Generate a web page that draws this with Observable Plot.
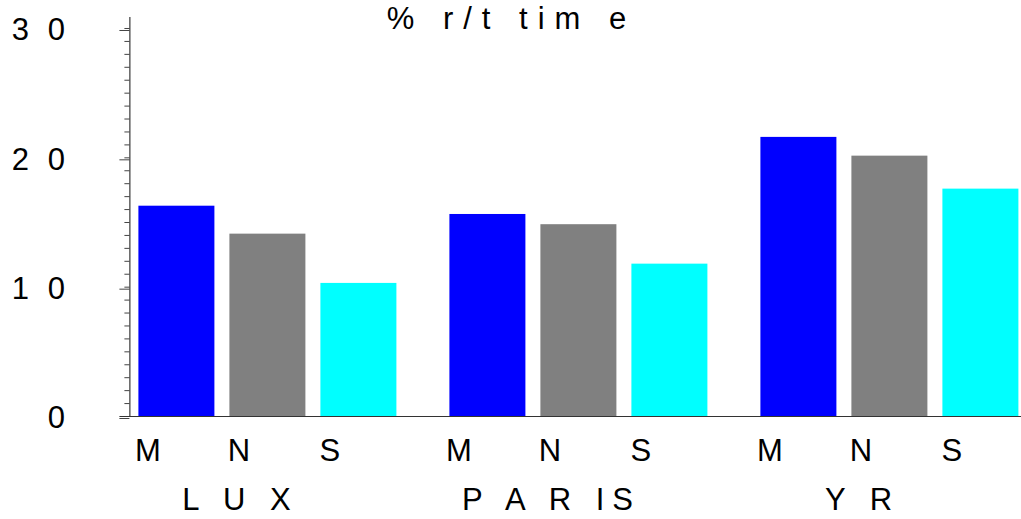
<!DOCTYPE html>
<html>
<head>
<meta charset="utf-8">
<script src="https://cdn.jsdelivr.net/npm/d3@7"></script>
<script src="https://cdn.jsdelivr.net/npm/@observablehq/plot@0.6"></script>
<style>
  html, body { margin: 0; padding: 0; background: #fff; }
  #chart svg { display: block; }
</style>
</head>
<body>
<div id="chart"></div>
<script>
// ---- data ----
const groups = ["LUX", "PARIS", "YR"];
const groupLabels = ["L U X", "P A R IS", "Y R"];
const categories = ["M", "N", "S"];
const luxValues = [16.26, 14.1, 10.29];
const parisValues = [15.62, 14.83, 11.78];
const yrValues = [21.58, 20.13, 17.58];
const categoryColors = ["#0000ff", "#808080", "#00ffff"];
const yTicks = [0, 10, 20, 30];
const yTickLabels = ["0", "1 0", "2 0", "3 0"];
const minorTicks = d3.range(0, 31);
const titleText = "% r/t tim e";

const seriesByGroup = [luxValues, parisValues, yrValues];
const data = groups.flatMap((g, i) =>
  categories.map((c, j) => ({ group: g, cat: c, value: seriesByGroup[i][j] }))
);
const groupRows = groups.map((g, i) => ({ group: g, label: groupLabels[i] }));

const FONT = "'Liberation Sans', Arial, Helvetica, sans-serif";
const AXIS_SHIFT = -5.6;

const chart = Plot.plot({
  width: 1021,
  height: 519,
  marginTop: 17,
  marginBottom: 103,
  marginLeft: 134.6,
  marginRight: 0,
  style: { fontFamily: FONT, fontSize: "31px", color: "#000", background: "#fff" },
  y: { domain: [0, 30.85], axis: null, label: null },
  x: { domain: categories, paddingInner: 0.17, paddingOuter: 0.03, axis: null },
  fx: { domain: groups, paddingInner: 0.1524, paddingOuter: 0, axis: null },
  color: { domain: categories, range: categoryColors },
  marks: [
    Plot.barY(data, { fx: "group", x: "cat", y: "value", fill: "cat" }),
    // minor ticks
    Plot.axisY(minorTicks, { label: null, tickSize: 5, text: null, stroke: "#444", dx: AXIS_SHIFT }),
    // major ticks + labels
    Plot.axisY(yTicks, {
      label: null,
      tickSize: 10,
      tickPadding: 50,
      stroke: "#444",
      dx: AXIS_SHIFT,
      dy: 2,
      fontSize: 31,
      tickFormat: d => yTickLabels[yTicks.indexOf(d)]
    }),
    // y axis line
    Plot.frame({ facet: "super", anchor: "left", insetLeft: AXIS_SHIFT, stroke: "#111" }),
    // baseline
    Plot.frame({ facet: "super", anchor: "bottom", insetLeft: AXIS_SHIFT - 10, stroke: "#333" }),
    // category labels
    Plot.text(data, {
      fx: "group", x: "cat", text: "cat",
      frameAnchor: "bottom", lineAnchor: "middle", dy: 35, dx: -29, fontSize: 31
    }),
    // group labels
    Plot.text(groupRows, {
      fx: "group", text: "label",
      frameAnchor: "bottom", lineAnchor: "middle", dy: 84, dx: -27, fontSize: 31
    }),
    // title
    Plot.text([titleText], {
      facet: "super", text: d => d,
      frameAnchor: "top", lineAnchor: "middle", dy: 2, dx: -67, fontSize: 31
    })
  ]
});

d3.select(chart).selectAll("text").each(function () {
  const t = this.textContent;
  let ls = null;
  if (t === titleText) ls = "10px";
  else if (groupLabels.includes(t)) ls = "8px";
  else if (yTickLabels.includes(t)) ls = "5px";
  if (ls) d3.select(this).style("letter-spacing", ls).style("white-space", "pre");
});

document.getElementById("chart").appendChild(chart);
</script>
</body>
</html>
